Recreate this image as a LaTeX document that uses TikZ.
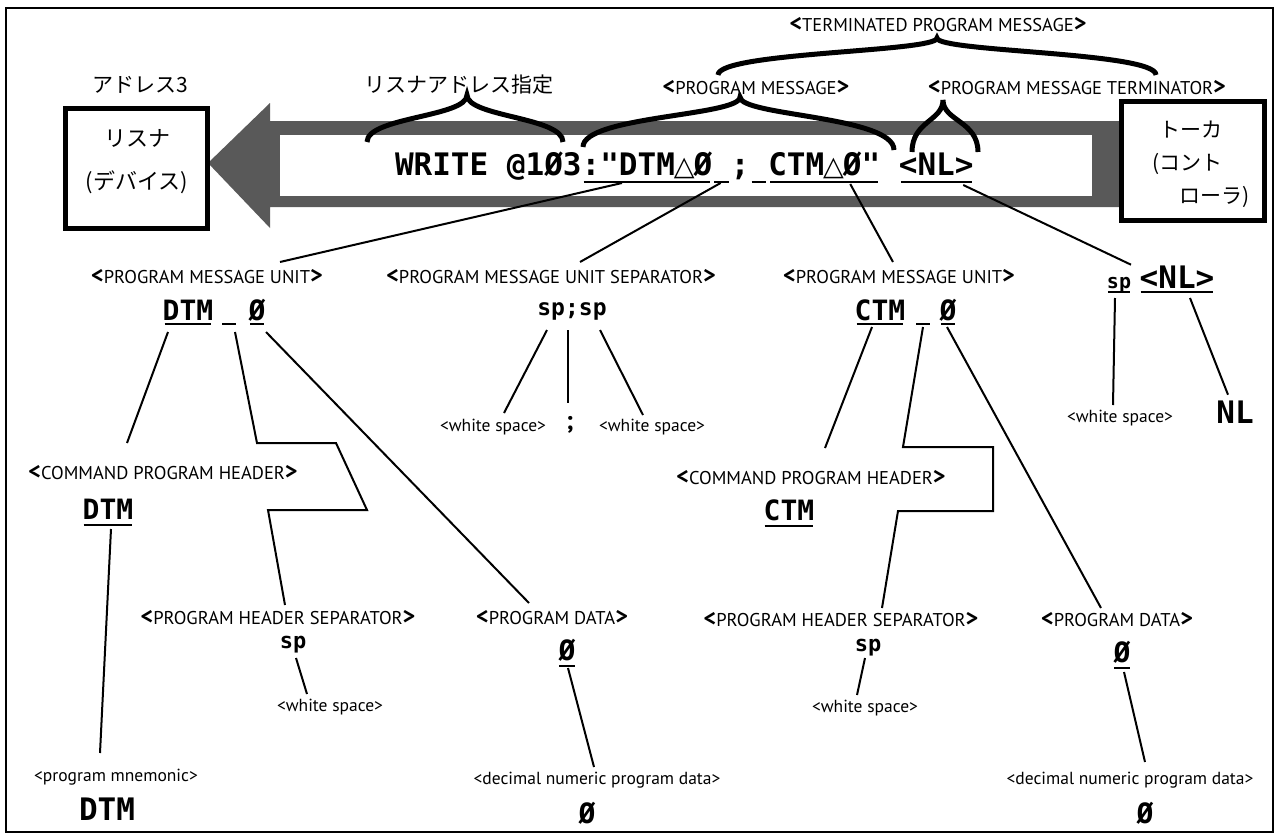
\documentclass[tikz,border=0pt]{standalone}
\usepackage{fontspec}
\setmainfont{PT Sans}
\newfontfamily\jpfont{Noto Sans CJK JP}
\newfontfamily\cmdfont{DejaVu Sans Mono}
\newfontfamily\trifont{DejaVu Sans}
\usetikzlibrary{positioning,calc}

\newcommand\tri{\makebox[0.602em]{\trifont\fontsize{27}{27}\selectfont △}}
\newcommand\lab[1]{{\fontsize{24}{24}\selectfont\bfseries<}{\fontsize{18.5}{20}\selectfont #1}{\fontsize{24}{24}\selectfont\bfseries>}}

\tikzset{
  lbl/.style={font=\fontsize{17.5}{20}\selectfont, inner sep=0pt},
  jp/.style={font=\jpfont\fontsize{21}{26}\selectfont, inner sep=0pt},
  cmd/.style={font=\cmdfont\bfseries\fontsize{31}{31}\selectfont, inner sep=0pt, outer sep=0pt},
  tok/.style={font=\cmdfont\bfseries\fontsize{28}{28}\selectfont, inner sep=0pt, anchor=base},
  spc/.style={font=\cmdfont\bfseries\fontsize{22}{22}\selectfont, inner sep=0pt, anchor=base},
  link/.style={line width=2pt},
  uline/.style={line width=2.2pt},
  brace/.style={line width=5pt},
  devbox/.style={draw, fill=white, line width=5pt, inner sep=0pt},
  band/.style={fill=black!65}
}

\begin{document}
\begin{tikzpicture}[x=1pt,y=-1pt]
\useasboundingbox (0,0) rectangle (1280,838);
\draw[line width=2pt] (6,8) rectangle (1273,832);

% arrow from talker to listener
\fill[band] (208,163) -- (270,103) -- (270,121) -- (1121,121) -- (1121,207)
  -- (270,207) -- (270,228) -- cycle;
\fill[white] (280,135) rectangle (1092,196);

\node[devbox, minimum width=142pt, minimum height=120pt] (lsn) at (136,168) {};
\node[jp, align=center, font=\jpfont\fontsize{22}{43}\selectfont] (lsnT) at (137,162) {リスナ\\(デバイス)};
\node[devbox, minimum width=143pt, minimum height=119pt] (tlk) at (1192.5,160.5) {};
\node[jp, align=left, font=\jpfont\fontsize{21}{33}\selectfont] (tlkT) at (1201,164)
  {\hspace*{7pt}トーカ\\(コント\\\hspace*{27pt}ローラ)};

\node[jp] (adr) at (140,85) {アドレス3};
\node[jp] (lad) at (459,85) {リスナアドレス指定};
\node[lbl] (tpm) at (938,25) {\lab{TERMINATED PROGRAM MESSAGE}};
\node[lbl] (pm) at (756,88) {\lab{PROGRAM MESSAGE}};
\node[lbl] (pmt) at (1077,88) {\lab{PROGRAM MESSAGE TERMINATOR}};

% braces
\draw[brace] (367,142) .. controls (367,117) and (467,117) .. (467,95)
  .. controls (467,117) and (563,117) .. (563,142);
\draw[brace] (583,147) .. controls (583,116) and (740,116) .. (740,97)
  .. controls (740,116) and (894,116) .. (894,150);
\draw[brace] (912,152) .. controls (912,121) and (943,121) .. (943,100)
  .. controls (943,121) and (978,121) .. (978,152);
\draw[brace] (718,75) .. controls (718,52) and (937,52) .. (937,38)
  .. controls (937,52) and (1156,52) .. (1156,75);

% command line
\node[cmd, anchor=base west] (cmdW) at (395,175) {WRITE @1Ø3};
\node[cmd, base right=0pt of cmdW] (cmdDTM) {:"DTM\tri Ø};
\node[cmd, base right=0pt of cmdDTM] (cmdS1) {\phantom{0}};
\node[cmd, base right=0pt of cmdS1] (cmdSemi) {;};
\node[cmd, base right=0pt of cmdSemi] (cmdS2) {\phantom{0}};
\node[cmd, base right=0pt of cmdS2] (cmdCTM) {CTM\tri Ø"};
\node[cmd, base right=18.66pt of cmdCTM] (cmdNL) {<NL>};
\foreach \n in {cmdDTM,cmdS1,cmdS2,cmdCTM,cmdNL}
  \draw[uline] ($(\n.base west)+(2,7)$) -- ($(\n.base east)+(-2,7)$);

% first level
\node[lbl] (pmuL) at (207,277) {\lab{PROGRAM MESSAGE UNIT}};
\node[lbl] (pmus) at (551,277) {\lab{PROGRAM MESSAGE UNIT SEPARATOR}};
\node[lbl] (pmuR) at (899,277) {\lab{PROGRAM MESSAGE UNIT}};
\node[tok] (tkDTM) at (188,320) {DTM};
\node[tok] (tkSpL) at (229,320) {\phantom{0}};
\node[tok] (tkZL) at (257,320) {Ø};
\node[tok] (tkCTM) at (880,320) {CTM};
\node[tok] (tkSpR) at (923,320) {\phantom{0}};
\node[tok] (tkZR) at (948,320) {Ø};
\node[spc, font=\cmdfont\bfseries\fontsize{23}{23}\selectfont] (sepTok) at (572,315) {sp;sp};
\node[spc, font=\cmdfont\bfseries\fontsize{20}{20}\selectfont] (spNL) at (1119,288) {sp};
\node[cmd, anchor=base] (nlTok) at (1177,288) {<NL>};
\foreach \n in {tkDTM,tkSpL,tkZL,tkCTM,tkSpR,tkZR}
  \draw[uline] ($(\n.base west)+(2,4)$) -- ($(\n.base east)+(-2,4)$);
\foreach \n in {spNL,nlTok}
  \draw[uline] ($(\n.base west)+(1,4)$) -- ($(\n.base east)+(-1,4)$);

\draw[link] ($(cmdDTM.base)+(-25,8)$) -- ($(pmuL)+(73,-15)$);
\draw[link] ($(cmdS1.base)+(-1,8)$) -- ($(pmus)+(29,-15)$);
\draw[link] ($(cmdCTM.base)+(26,9)$) -- ($(pmuR)+(-6,-15)$);
\draw[link] ($(cmdNL.base)+(27,10)$) -- ($(nlTok)+(-46,-12)$);

% separator
\node[lbl] (wsS1) at (493,427) {<white space>};
\node[lbl, font=\bfseries\fontsize{26}{26}\selectfont] (semi) at (570,425) {;};
\node[lbl] (wsS2) at (652,427) {<white space>};
\draw[link] ($(sepTok.base)+(-25,15)$) -- ($(wsS1)+(11,-14)$);
\draw[link] ($(sepTok.base)+(-4,15)$) -- ($(semi)+(-2,-22)$);
\draw[link] ($(sepTok.base)+(28,15)$) -- ($(wsS2)+(-9,-12)$);

% terminator
\node[lbl] (wsNL) at (1120,418) {<white space>};
\node[cmd, anchor=base] (nlFin) at (1235,423) {NL};
\draw[link] ($(spNL.base)+(-4,10)$) -- ($(wsNL)+(-7,-13)$);
\draw[link] ($(nlTok.base)+(13,10)$) -- ($(nlFin)+(-7,-17)$);

% left unit
\node[lbl] (cphL) at (163,473) {\lab{COMMAND PROGRAM HEADER}};
\node[tok] (cphDTM) at (108,519) {DTM};
\node[lbl] (pmn) at (116,777) {<program mnemonic>};
\node[tok, font=\cmdfont\bfseries\fontsize{31}{31}\selectfont] (mnDTM) at (107,820) {DTM};
\node[lbl] (phsL) at (278,618) {\lab{PROGRAM HEADER SEPARATOR}};
\node[spc] (phsSp) at (293,648) {sp};
\node[lbl] (wsL) at (330,707) {<white space>};
\node[lbl] (pdL) at (552,618) {\lab{PROGRAM DATA}};
\node[tok] (pdZL) at (567,660) {Ø};
\node[lbl] (decL) at (597,780) {<decimal numeric program data>};
\node[tok] (decZL) at (587,823) {Ø};

\draw[link] ($(tkDTM.base)+(-20,12)$) -- ($(cphL)+(-36,-30)$);
\draw[link] ($(tkSpL.base)+(6,12)$) -- ++(22,111) -- ++(79,0) -- ++(31,67) -- ++(-99,0)
  -- ($(phsL)+(7,-13)$);
\draw[link] ($(tkZL.base)+(9,12)$) -- ($(pdL)+(-23,-15)$);
\draw[link] ($(cphDTM.base)+(3,10)$) -- ($(pmn)+(-16,-24)$);
\draw[link] ($(phsSp.base)+(3,10)$) -- ($(wsL)+(-23,-13)$);
\draw[link] ($(pdZL.base)+(1,8)$) -- ($(decL)+(-3,-13)$);

% right unit
\node[lbl] (cphR) at (811,478) {\lab{COMMAND PROGRAM HEADER}};
\node[tok] (cphCTM) at (789,520) {CTM};
\node[lbl] (phsR) at (841,620) {\lab{PROGRAM HEADER SEPARATOR}};
\node[spc] (phsRSp) at (868,651) {sp};
\node[lbl] (wsR) at (865,708) {<white space>};
\node[lbl] (pdR) at (1117,620) {\lab{PROGRAM DATA}};
\node[tok] (pdZR) at (1122,662) {Ø};
\node[lbl] (decR) at (1130,780) {<decimal numeric program data>};
\node[tok] (decZR) at (1145,823) {Ø};
\foreach \n in {cphDTM,cphCTM,pdZL,pdZR}
  \draw[uline] ($(\n.base west)+(1,6)$) -- ($(\n.base east)+(-1,6)$);

\draw[link] ($(tkCTM.base)+(-8,7)$) -- ($(cphR)+(14,-30)$);
\draw[link] ($(tkSpR.base)+(0,7)$) -- ++(-20,120) -- ++(90,0) -- ++(0,64) -- ++(-95,0)
  -- ($(phsR)+(41,-12)$);
\draw[link] ($(tkZR.base)+(-1,7)$) -- ($(pdR)+(-16,-12)$);
\draw[link] ($(phsRSp.base)+(-3,7)$) -- ($(wsR)+(-8,-13)$);
\draw[link] ($(pdZR.base)+(2,10)$) -- ($(decR)+(15,-18)$);
\end{tikzpicture}
\end{document}
